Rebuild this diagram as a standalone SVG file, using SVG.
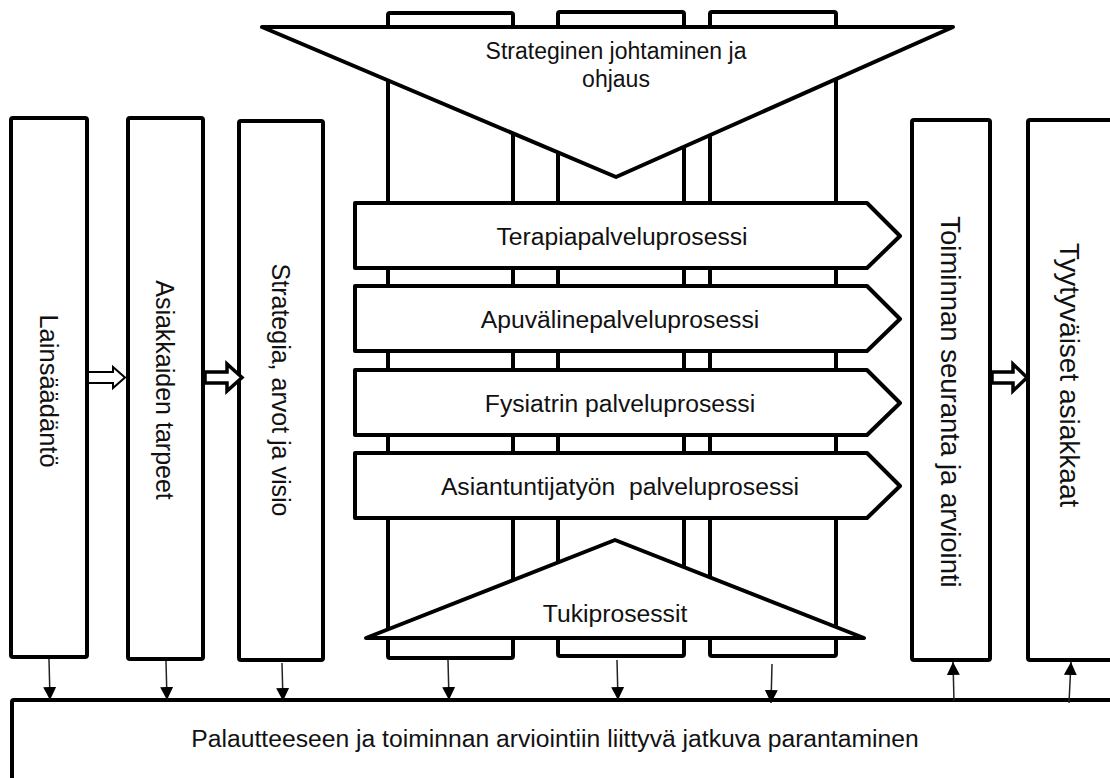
<svg xmlns="http://www.w3.org/2000/svg" width="1110" height="778" viewBox="0 0 1110 778">
<style>
.box{fill:#fff;stroke:#000;stroke-width:4;stroke-linejoin:round}
.shape{fill:#fff;stroke:#000;stroke-width:4;stroke-linejoin:round}
.t{font-family:"Liberation Sans",Arial,sans-serif;font-size:24.7px;fill:#111}
.tm{text-anchor:middle}
.thin{stroke:#222;stroke-width:1.5;fill:none}
.hollow{fill:#fff;stroke:#000;stroke-linejoin:miter}
</style>
<defs>
<marker id="ah" markerUnits="userSpaceOnUse" markerWidth="14" markerHeight="14" refX="13" refY="7" orient="auto">
<path d="M0,0.5 L13,7 L0,13.5 Z" fill="#000"/>
</marker>
</defs>
<rect width="1110" height="778" fill="#fff"/>

<g id="columns">
<rect class="box" x="388" y="13" width="125" height="645" rx="2"/>
<rect class="box" x="558" y="12" width="126" height="644" rx="2"/>
<rect class="box" x="710" y="12" width="126" height="644" rx="2"/>
</g>

<g id="strateginen">
<path class="shape" d="M262,27 H953 L616,177 Z"/>
<text class="t tm" x="616" y="59" style="font-size:23px">Strateginen johtaminen ja</text>
<text class="t tm" x="616" y="87" style="font-size:23px">ohjaus</text>
</g>

<g id="terapia">
<path class="shape" d="M355,203 H867 L900,236 L867,268 H355 Z"/>
<text class="t tm" x="622" y="245">Terapiapalveluprosessi</text>
</g>
<g id="apuvaline">
<path class="shape" d="M355,286 H867 L900,319 L867,351 H355 Z"/>
<text class="t tm" x="620" y="328">Apuvälinepalveluprosessi</text>
</g>
<g id="fysiatri">
<path class="shape" d="M355,370 H867 L900,403 L867,435 H355 Z"/>
<text class="t tm" x="620" y="412">Fysiatrin palveluprosessi</text>
</g>
<g id="asiantuntija">
<path class="shape" d="M355,453 H867 L900,486 L867,518 H355 Z"/>
<text class="t tm" x="620" y="495" xml:space="preserve">Asiantuntijatyön  palveluprosessi</text>
</g>

<g id="tukiprosessit">
<path class="shape" d="M366,638 L615,540 L864,638 Z"/>
<text class="t tm" x="615" y="622">Tukiprosessit</text>
</g>

<g id="lainsaadanto">
<rect class="box" x="11" y="118" width="76" height="539" rx="2"/>
<text class="t tm" transform="translate(49,391) rotate(90)" dy="0.35em" style="font-size:25.5px">Lainsäädäntö</text>
</g>
<g id="asiakkaiden">
<rect class="box" x="128" y="118" width="75" height="541" rx="2"/>
<text class="t tm" transform="translate(165,390) rotate(90)" dy="0.35em" style="font-size:25px">Asiakkaiden tarpeet</text>
</g>
<g id="strategia">
<rect class="box" x="239" y="121" width="84" height="539" rx="2"/>
<text class="t tm" transform="translate(281,390) rotate(90)" dy="0.35em" style="font-size:25px">Strategia, arvot ja visio</text>
</g>
<g id="toiminnan">
<rect class="box" x="912" y="120" width="78" height="540" rx="2"/>
<text class="t tm" transform="translate(951,402) rotate(90)" dy="0.35em" style="font-size:27.5px">Toiminnan seuranta ja arviointi</text>
</g>
<g id="tyytyvaiset">
<rect class="box" x="1028" y="120" width="100" height="540" rx="2"/>
<text class="t tm" transform="translate(1070,375) rotate(90)" dy="0.35em" style="font-size:28px">Tyytyväiset asiakkaat</text>
</g>

<g id="parantaminen">
<rect class="box" x="12" y="700" width="1120" height="100" rx="2"/>
<text class="t tm" x="555" y="747">Palautteeseen ja toiminnan arviointiin liittyvä jatkuva parantaminen</text>
</g>

<g id="connectors">
<path class="hollow" stroke-width="2" d="M88,372 H113 V367 L125,377.5 L113,388 V383 H88 Z"/>
<path class="hollow" stroke-width="3.5" d="M205,372 H227 V364 L242,377.5 L227,391 V383 H205 Z"/>
<path class="hollow" stroke-width="3.5" d="M992,372 H1013 V364 L1027,377.5 L1013,391 V383 H992 Z"/>
<line class="thin" x1="49" y1="659" x2="50" y2="700" marker-end="url(#ah)"/>
<line class="thin" x1="166" y1="661" x2="167" y2="700" marker-end="url(#ah)"/>
<line class="thin" x1="282" y1="663" x2="283" y2="701" marker-end="url(#ah)"/>
<line class="thin" x1="448" y1="660" x2="449" y2="700" marker-end="url(#ah)"/>
<line class="thin" x1="617" y1="660" x2="618" y2="700" marker-end="url(#ah)"/>
<line class="thin" x1="772" y1="664" x2="771" y2="703" marker-end="url(#ah)"/>
<line class="thin" x1="954" y1="701" x2="953" y2="662" marker-end="url(#ah)"/>
<line class="thin" x1="1069" y1="703" x2="1071" y2="662" marker-end="url(#ah)"/>
</g>
</svg>
